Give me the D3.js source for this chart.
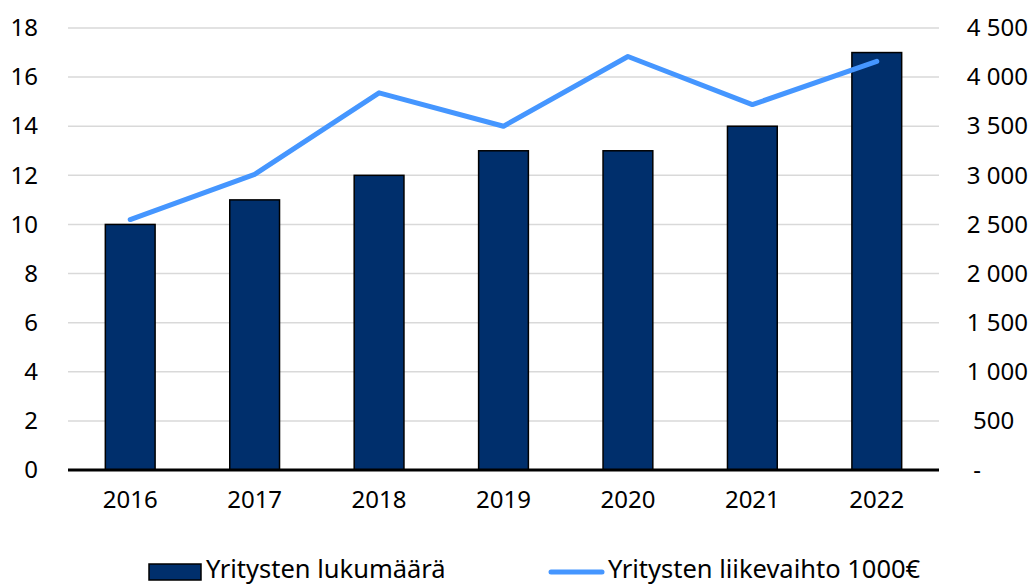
<!DOCTYPE html>
<html><head><meta charset="utf-8">
<script src="https://cdn.jsdelivr.net/npm/d3@7"></script>
<style>body{margin:0;background:#fff}svg{display:block}text{font-family:"Noto Sans",sans-serif;fill:#000}</style>
</head><body>
<svg id="c" width="1032" height="585"></svg>
<script>
const years = ["2016","2017","2018","2019","2020","2021","2022"];
const counts = [10, 11, 12, 13, 13, 14, 17];
const revenue = [2550, 3010, 3840, 3500, 4210, 3720, 4160];
const leftTicks = [0,2,4,6,8,10,12,14,16,18];
const rightTicks = [0,500,1000,1500,2000,2500,3000,3500,4000,4500];
const seriesNames = ["Yritysten lukumäärä","Yritysten liikevaihto 1000€"];

const svg = d3.select("#c");
const L = 68, R = 939, T = 28, B = 470;
const x = d3.scaleBand().domain(years).range([L, R]).paddingInner(0.6).paddingOuter(0.3);
const yL = d3.scaleLinear().domain([0,18]).range([B,T]);
const yR = d3.scaleLinear().domain([0,4500]).range([B,T]);
const fs = 24;
const lfs = 25.5;

// gridlines
svg.append("g").selectAll("line").data(leftTicks.filter(d=>d>0)).join("line")
  .attr("x1",L).attr("x2",R).attr("y1",d=>yL(d)).attr("y2",d=>yL(d))
  .attr("stroke","#d9d9d9").attr("stroke-width",1.5);

// left axis labels
const gl = svg.append("g").attr("transform",`translate(38,0)`)
  .call(d3.axisLeft(yL).tickValues(leftTicks).tickSize(0).tickPadding(0));
gl.select(".domain").remove();
gl.selectAll("text").attr("font-size",fs).style("font-family","'Noto Sans',sans-serif");

// right axis labels
const fmt = d => d===0 ? "-" : d3.format(",")(d).replace(/,/g," ") + (d<1000 ? "\u2007" : "");
const gr = svg.append("g").attr("transform",`translate(1028,0)`)
  .call(d3.axisLeft(yR).tickValues(rightTicks).tickFormat(fmt).tickSize(0).tickPadding(0));
gr.select(".domain").remove();
gr.selectAll("text").attr("font-size",fs).style("font-family","'Noto Sans',sans-serif")
  .attr("dx",d=>d===0?-47:0);

// bars
svg.append("g").selectAll("rect").data(years).join("rect")
  .attr("x",d=>x(d)).attr("width",x.bandwidth())
  .attr("y",(d,i)=>yL(counts[i])).attr("height",(d,i)=>yL(0)-yL(counts[i]))
  .attr("fill","#002f6c").attr("stroke","#000").attr("stroke-width",1.5);

// baseline
svg.append("line").attr("x1",L).attr("x2",R).attr("y1",B).attr("y2",B)
  .attr("stroke","#000").attr("stroke-width",3);

// x labels
const gx = svg.append("g").attr("transform",`translate(0,${B})`)
  .call(d3.axisBottom(x).tickSize(0).tickPadding(21));
gx.select(".domain").remove();
gx.selectAll("text").attr("font-size",fs).style("font-family","'Noto Sans',sans-serif");

// line
svg.append("path").datum(revenue)
  .attr("d", d3.line().x((d,i)=>x(years[i])+x.bandwidth()/2).y(d=>yR(d)))
  .attr("fill","none").attr("stroke","#4596ff").attr("stroke-width",5)
  .attr("stroke-linecap","round").attr("stroke-linejoin","round");

// legend
const lg = svg.append("g");
lg.append("rect").attr("x",149).attr("y",564).attr("width",52).attr("height",16)
  .attr("fill","#002f6c").attr("stroke","#000").attr("stroke-width",1.5);
lg.append("text").attr("x",206).attr("y",578).attr("font-size",lfs).text(seriesNames[0]);
lg.append("line").attr("x1",551).attr("x2",602).attr("y1",572).attr("y2",572)
  .attr("stroke","#4596ff").attr("stroke-width",5).attr("stroke-linecap","round");
lg.append("text").attr("x",608).attr("y",578).attr("font-size",lfs).text(seriesNames[1]);
</script>
</body></html>
